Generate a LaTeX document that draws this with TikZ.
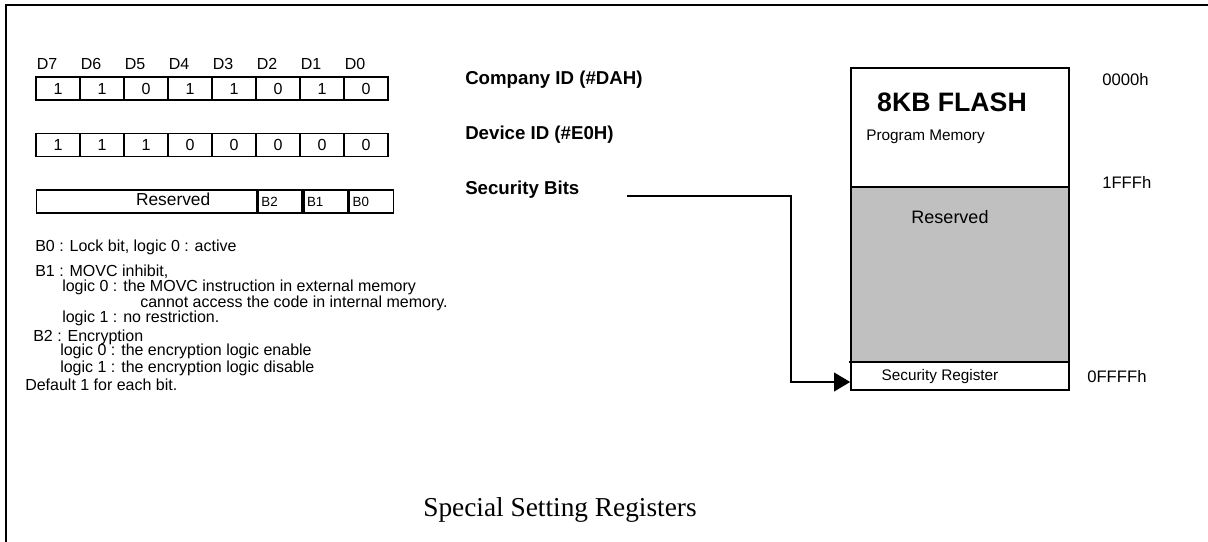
\documentclass[tikz,border=0pt]{standalone}
\usepackage{fontspec}
\setmainfont{Liberation Sans}
\newfontfamily\titlefont{Liberation Serif}
\usetikzlibrary{arrows.meta,positioning}
\definecolor{resgray}{HTML}{C0C0C0}
\tikzset{
  bitcell/.style={draw, line width=1.2pt, minimum width=33pt, minimum height=17.25pt, inner sep=0pt, font=\fontsize{12}{14}\selectfont},
  subcell/.style={bitcell, font=\fontsize{10}{12}\selectfont, text width=28pt, align=left},
  memblock/.style={draw, line width=1.3pt, minimum width=163.5pt, inner sep=0pt},
  bitlabel/.style={anchor=south west, inner sep=1pt, font=\fontsize{12}{14}\selectfont},
  idlabel/.style={anchor=west, inner sep=0pt, font=\fontsize{14}{16}\selectfont\bfseries},
  note/.style={anchor=west, inner sep=0pt},
  addr/.style={anchor=west, inner sep=0pt, font=\fontsize{12.5}{15}\selectfont}
}
\begin{document}
\begin{tikzpicture}[x=0.75pt, y=-0.75pt, font=\fontsize{12}{14}\selectfont, line join=miter, >={Triangle[length=12pt,width=14pt]}]
	\useasboundingbox (0,0) rectangle (1208,542);
	\draw[line width=1.5pt] (6,542)--(6,5)--(1208,5);
	% register bits
	\foreach \v [count=\i from 0] in {1,1,0,1,1,0,1,0}
		\node[bitcell] (ida\i) at ({58+44*\i},88.5) {\v};
	\foreach \v [count=\i from 0] in {1,1,1,0,0,0,0,0}
		\node[bitcell] (idb\i) at ({58+44*\i},145) {\v};
	\foreach \d [count=\i from 0] in {7,6,5,4,3,2,1,0}
		\node[bitlabel] (dl\i) at ([yshift=4pt]ida\i.north west) {D\d};
	\node[bitcell, minimum width=165pt, label={[xshift=20pt, yshift=2pt, font=\fontsize{13}{15}\selectfont]center:Reserved}] (rsv) at (146.5,201.5) {};
	\node[subcell, right=0pt of rsv] (bb2) {B2};
	\node[subcell, right=0pt of bb2] (bb1) {B1};
	\node[subcell, right=0pt of bb1] (bb0) {B0};
	% notes
	\node[note] (n1) at (35,247) {B0 : Lock bit, logic 0 : active};
	\node[note] (n2) at (35,272) {B1 : MOVC inhibit,};
	\node[note] (n3) at (62,287) {logic 0 : the MOVC instruction in external memory};
	\node[note] (n4) at (140,303) {cannot access the code in internal memory.};
	\node[note] (n5) at (62,318) {logic 1 : no restriction.};
	\node[note] (n6) at (33,337) {B2 : Encryption};
	\node[note] (n7) at (60,351) {logic 0 : the encryption logic enable};
	\node[note] (n8) at (60,368) {logic 1 : the encryption logic disable};
	\node[note] (n9) at (25,385) {Default 1 for each bit.};
	% id labels
	\node[idlabel] (cid) at (465,80) {Company ID (\#DAH)};
	\node[idlabel] (did) at (465,135) {Device ID (\#E0H)};
	\node[idlabel] (sbits) at (465,190) {Security Bits};
	% memory map
	\node[memblock, minimum height=89.25pt] (flash) at (960,127.5) {};
	\node[memblock, fill=resgray, minimum height=131.25pt] (rsvmem) at (960,274.5) {};
	\node[memblock, minimum height=21pt] (secreg) at (960,376) {};
	\draw[line width=2pt] (849,362)--(992,362);
	\node[font=\fontsize{20}{24}\selectfont\bfseries] (flt) at (952,102) {8KB FLASH};
	\node[note, font=\fontsize{11.5}{13}\selectfont] (pgm) at (866,137) {Program Memory};
	\node[font=\fontsize{13.5}{16}\selectfont] (rst) at (950,217) {Reserved};
	\node[font=\fontsize{11.5}{13}\selectfont] (srt) at (940,377) {Security Register};
	\node[addr] (a0) at (1102,80) {0000h};
	\node[addr] (a1) at (1102,182) {1FFFh};
	\node[addr] (a2) at (1087,377) {0FFFFh};
	\coordinate (sbstart) at (627,196);
	\draw[->, line width=1.3pt] (sbstart)--(791,196)|-([yshift=-4.5pt]secreg.west);
	\node[font=\fontsize{20.5}{24}\selectfont\titlefont] (title) at (560,510) {Special Setting Registers};
\end{tikzpicture}
\end{document}
